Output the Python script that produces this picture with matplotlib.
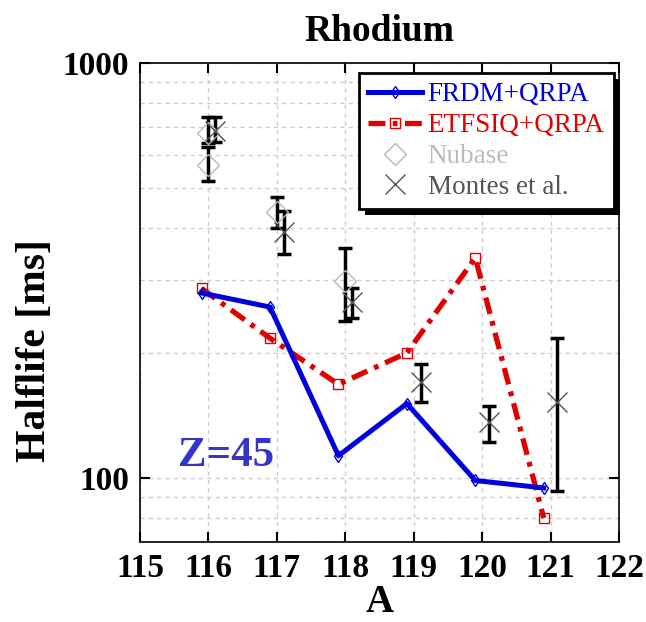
import numpy as np
import matplotlib
matplotlib.use('Agg')
import matplotlib.pyplot as plt
from matplotlib.patches import Rectangle
from matplotlib.ticker import FixedLocator, FixedFormatter, LogLocator, NullFormatter

plt.rcParams['font.family'] = ['Liberation Serif', 'DejaVu Serif']

# mass numbers
A_calc = [116, 117, 118, 119, 120, 121]
frdm = [279, 258, 113, 151, 98.5, 94.5]
etfsiq = [286, 217, 168, 200, 339, 80]

A_nubase = [116, 116, 117, 118]
nubase = [678, 569, 438, 298]
nubase_lo = [38, 50, 38, 59]
nubase_hi = [63, 57, 38, 61]

A_montes = [116, 117, 118, 119, 120, 121]
montes = [684, 392, 266, 170, 136, 152]
montes_lo = [40, 45, 23, 18, 14, 59]
montes_hi = [57, 48, 20, 18, 13, 65]

blue = '#0000dc'
red = '#e00000'

fig = plt.figure(figsize=(6.46, 6.22), dpi=100)
ax = fig.add_axes([0.2167, 0.1286, 0.7415, 0.7701])

ax.set_yscale('log')
ax.set_xlim(115, 122)
ax.set_ylim(70, 1000)

ax.grid(True, which='both', color='#cccccc', linestyle=(0, (3, 3)), lw=1)
ax.set_axisbelow(True)

# models are plotted slightly left, measurements slightly right
xc = np.array(A_calc) - 0.1
ax.plot(xc, frdm, color=blue, lw=3.6, marker='d', ms=6, mfc='none', mec=blue,
        mew=1, label='FRDM+QRPA', zorder=4)
ax.plot(xc, etfsiq, color=red, lw=3.8, ls=(0, (3.2, 1.4, 0.9, 1.4)), marker='s',
        ms=7, mfc='none', mec=red, mew=1, label='ETFSIQ+QRPA', zorder=3)

ax.errorbar(A_nubase, nubase, yerr=[nubase_lo, nubase_hi], fmt='none',
            ecolor='k', elinewidth=2.5, capsize=5, capthick=2.5, zorder=5)
ax.plot(A_nubase, nubase, ls='none', marker='D', ms=11, mfc='none',
        mec='#b8b8b8', mew=1, label='Nubase', zorder=6)

xm = np.array(A_montes) + 0.1
ax.errorbar(xm, montes, yerr=[montes_lo, montes_hi], fmt='none',
            ecolor='k', elinewidth=2.5, capsize=5, capthick=2.5, zorder=5)
ax.plot(xm, montes, ls='none', marker='x', ms=15, mec='#555555', mew=1,
        label='Montes et al.', zorder=6)

ax.yaxis.set_major_locator(FixedLocator([100, 1000]))
ax.yaxis.set_major_formatter(FixedFormatter(['100', '1000']))
ax.yaxis.set_minor_locator(LogLocator(base=10, subs=np.arange(2, 10)))
ax.yaxis.set_minor_formatter(NullFormatter())
ax.set_xticks(range(115, 123))

ax.tick_params(which='major', direction='in', length=7, width=1.5,
               top=True, right=True, labelsize=24, pad=8)
ax.tick_params(which='minor', length=0)
for lab in ax.get_xticklabels() + ax.get_yticklabels():
    lab.set_fontweight('bold')
for sp in ax.spines.values():
    sp.set_linewidth(1.2)

ax.set_title('Rhodium', fontsize=27, fontweight='bold', pad=16)
ax.set_xlabel('A', fontsize=28, fontweight='bold', labelpad=0)
ax.set_ylabel('Halflife [ms]', fontsize=30, fontweight='bold')
ax.yaxis.set_label_coords(-0.18, 0.40)

ax.text(115.55, 107, 'Z=45', color='#3535cc', fontsize=31, fontweight='bold')

leg = ax.legend(loc='upper right', bbox_to_anchor=(0.99, 0.98),
                borderaxespad=0, fontsize=19.5, fancybox=False,
                edgecolor='k', framealpha=1, handlelength=2.0,
                handletextpad=0.2, labelspacing=0.22, borderpad=0.35)
leg.get_frame().set_linewidth(2)
leg.set_zorder(10)
for txt, c in zip(leg.get_texts(), [blue, red, '#bbbbbb', '#555555']):
    txt.set_color(c)

# black drop shadow behind the legend box
fig.canvas.draw()
bb = leg.get_window_extent().transformed(ax.transAxes.inverted())
dx, dy = 6 / ax.bbox.width, 6 / ax.bbox.height
ax.add_patch(Rectangle((bb.x0 + dx, bb.y0 - dy), bb.width, bb.height,
                       transform=ax.transAxes, fc='k', ec='none',
                       clip_on=False, zorder=9.9))

fig.savefig('out.png', dpi=100)
